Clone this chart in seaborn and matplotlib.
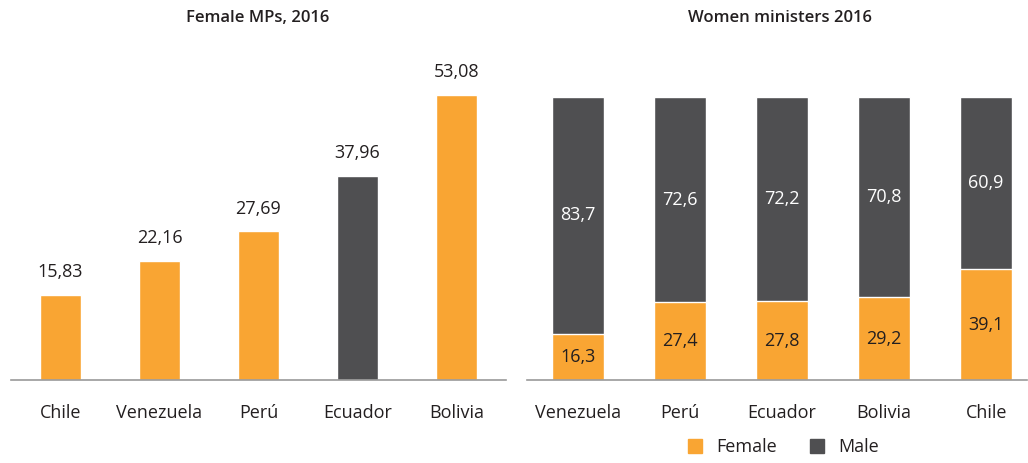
import matplotlib
matplotlib.use("Agg")
import matplotlib.pyplot as plt
from matplotlib.lines import Line2D
import seaborn as sns
import pandas as pd

# data
mp_countries = ["Chile", "Venezuela", "Perú", "Ecuador", "Bolivia"]
mp_values = [15.83, 22.16, 27.69, 37.96, 53.08]

min_countries = ["Venezuela", "Perú", "Ecuador", "Bolivia", "Chile"]
min_female = [16.3, 27.4, 27.8, 29.2, 39.1]
min_male = [83.7, 72.6, 72.2, 70.8, 60.9]

orange = "#F9A533"
dark = "#4F4F51"
txt = "#231F20"
axis_grey = "#9A9A9A"

sns.set_theme(style="white")
plt.rcParams["font.family"] = ["Open Sans", "DejaVu Sans"]

fig = plt.figure(figsize=(10.28, 4.63), dpi=100)
W, H = 1028, 463
FS = 13

# ---- left: Female MPs
ax1 = fig.add_axes([11 / W, 83 / H, 495 / W, 322 / H])
mp = pd.DataFrame({"country": mp_countries, "value": mp_values})
pal1 = [dark if c == "Ecuador" else orange for c in mp_countries]
sns.barplot(data=mp, x="country", y="value", hue="country", palette=pal1,
            width=0.405, saturation=1, legend=False, ax=ax1)
for cont in ax1.containers:
    ax1.bar_label(cont, labels=[f"{v.get_height():.2f}".replace(".", ",") for v in cont],
                  padding=10, fontsize=FS, color=txt)
ax1.set_xlim(-0.5, 4.5)
ax1.set_ylim(0, 60)
ax1.set_xlabel("")
ax1.set_ylabel("")
ax1.set_yticks([])
ax1.tick_params(axis="x", length=0, pad=17, labelsize=FS, labelcolor=txt)
for s in ["top", "right", "left"]:
    ax1.spines[s].set_visible(False)
ax1.spines["bottom"].set_color(axis_grey)
ax1.spines["bottom"].set_linewidth(1.2)
fig.text(258 / W, 1 - 18 / H, "Female MPs, 2016", ha="center", va="center",
         fontsize=12, fontweight="semibold", color=txt)

# ---- right: Women ministers
ax2 = fig.add_axes([527 / W, 83 / H, 500 / W, 283 / H])
mn = pd.DataFrame({"country": min_countries, "female": min_female, "male": min_male})
mn["total"] = mn["female"] + mn["male"]
sns.barplot(data=mn, x="country", y="total", color=dark, width=0.51,
            saturation=1, ax=ax2)
sns.barplot(data=mn, x="country", y="female", color=orange, width=0.51,
            saturation=1, ax=ax2)
for i, (f, m) in enumerate(zip(min_female, min_male)):
    ax2.text(i, f / 2, f"{f}".replace(".", ","), ha="center", va="center",
             fontsize=FS, color=txt)
    ax2.text(i, f + m / 2, f"{m}".replace(".", ","), ha="center", va="center",
             fontsize=FS, color="white")
ax2.set_xlim(-0.5, 4.4)
ax2.set_ylim(0, 100)
ax2.set_xlabel("")
ax2.set_ylabel("")
ax2.set_yticks([])
ax2.tick_params(axis="x", length=0, pad=17, labelsize=FS, labelcolor=txt)
for s in ["top", "right", "left"]:
    ax2.spines[s].set_visible(False)
ax2.spines["bottom"].set_color(axis_grey)
ax2.spines["bottom"].set_linewidth(1.2)
fig.text(780 / W, 1 - 18 / H, "Women ministers 2016", ha="center", va="center",
         fontsize=12, fontweight="semibold", color=txt)

handles = [Line2D([], [], marker="s", linestyle="", color=orange, markersize=10),
           Line2D([], [], marker="s", linestyle="", color=dark, markersize=10)]
fig.legend(handles, ["Female", "Male"], loc="center", bbox_to_anchor=(778 / W, 16 / H),
           ncol=2, frameon=False, fontsize=FS, handletextpad=0.2, columnspacing=1.2,
           labelcolor=txt)

fig.savefig("out.png", dpi=100)
